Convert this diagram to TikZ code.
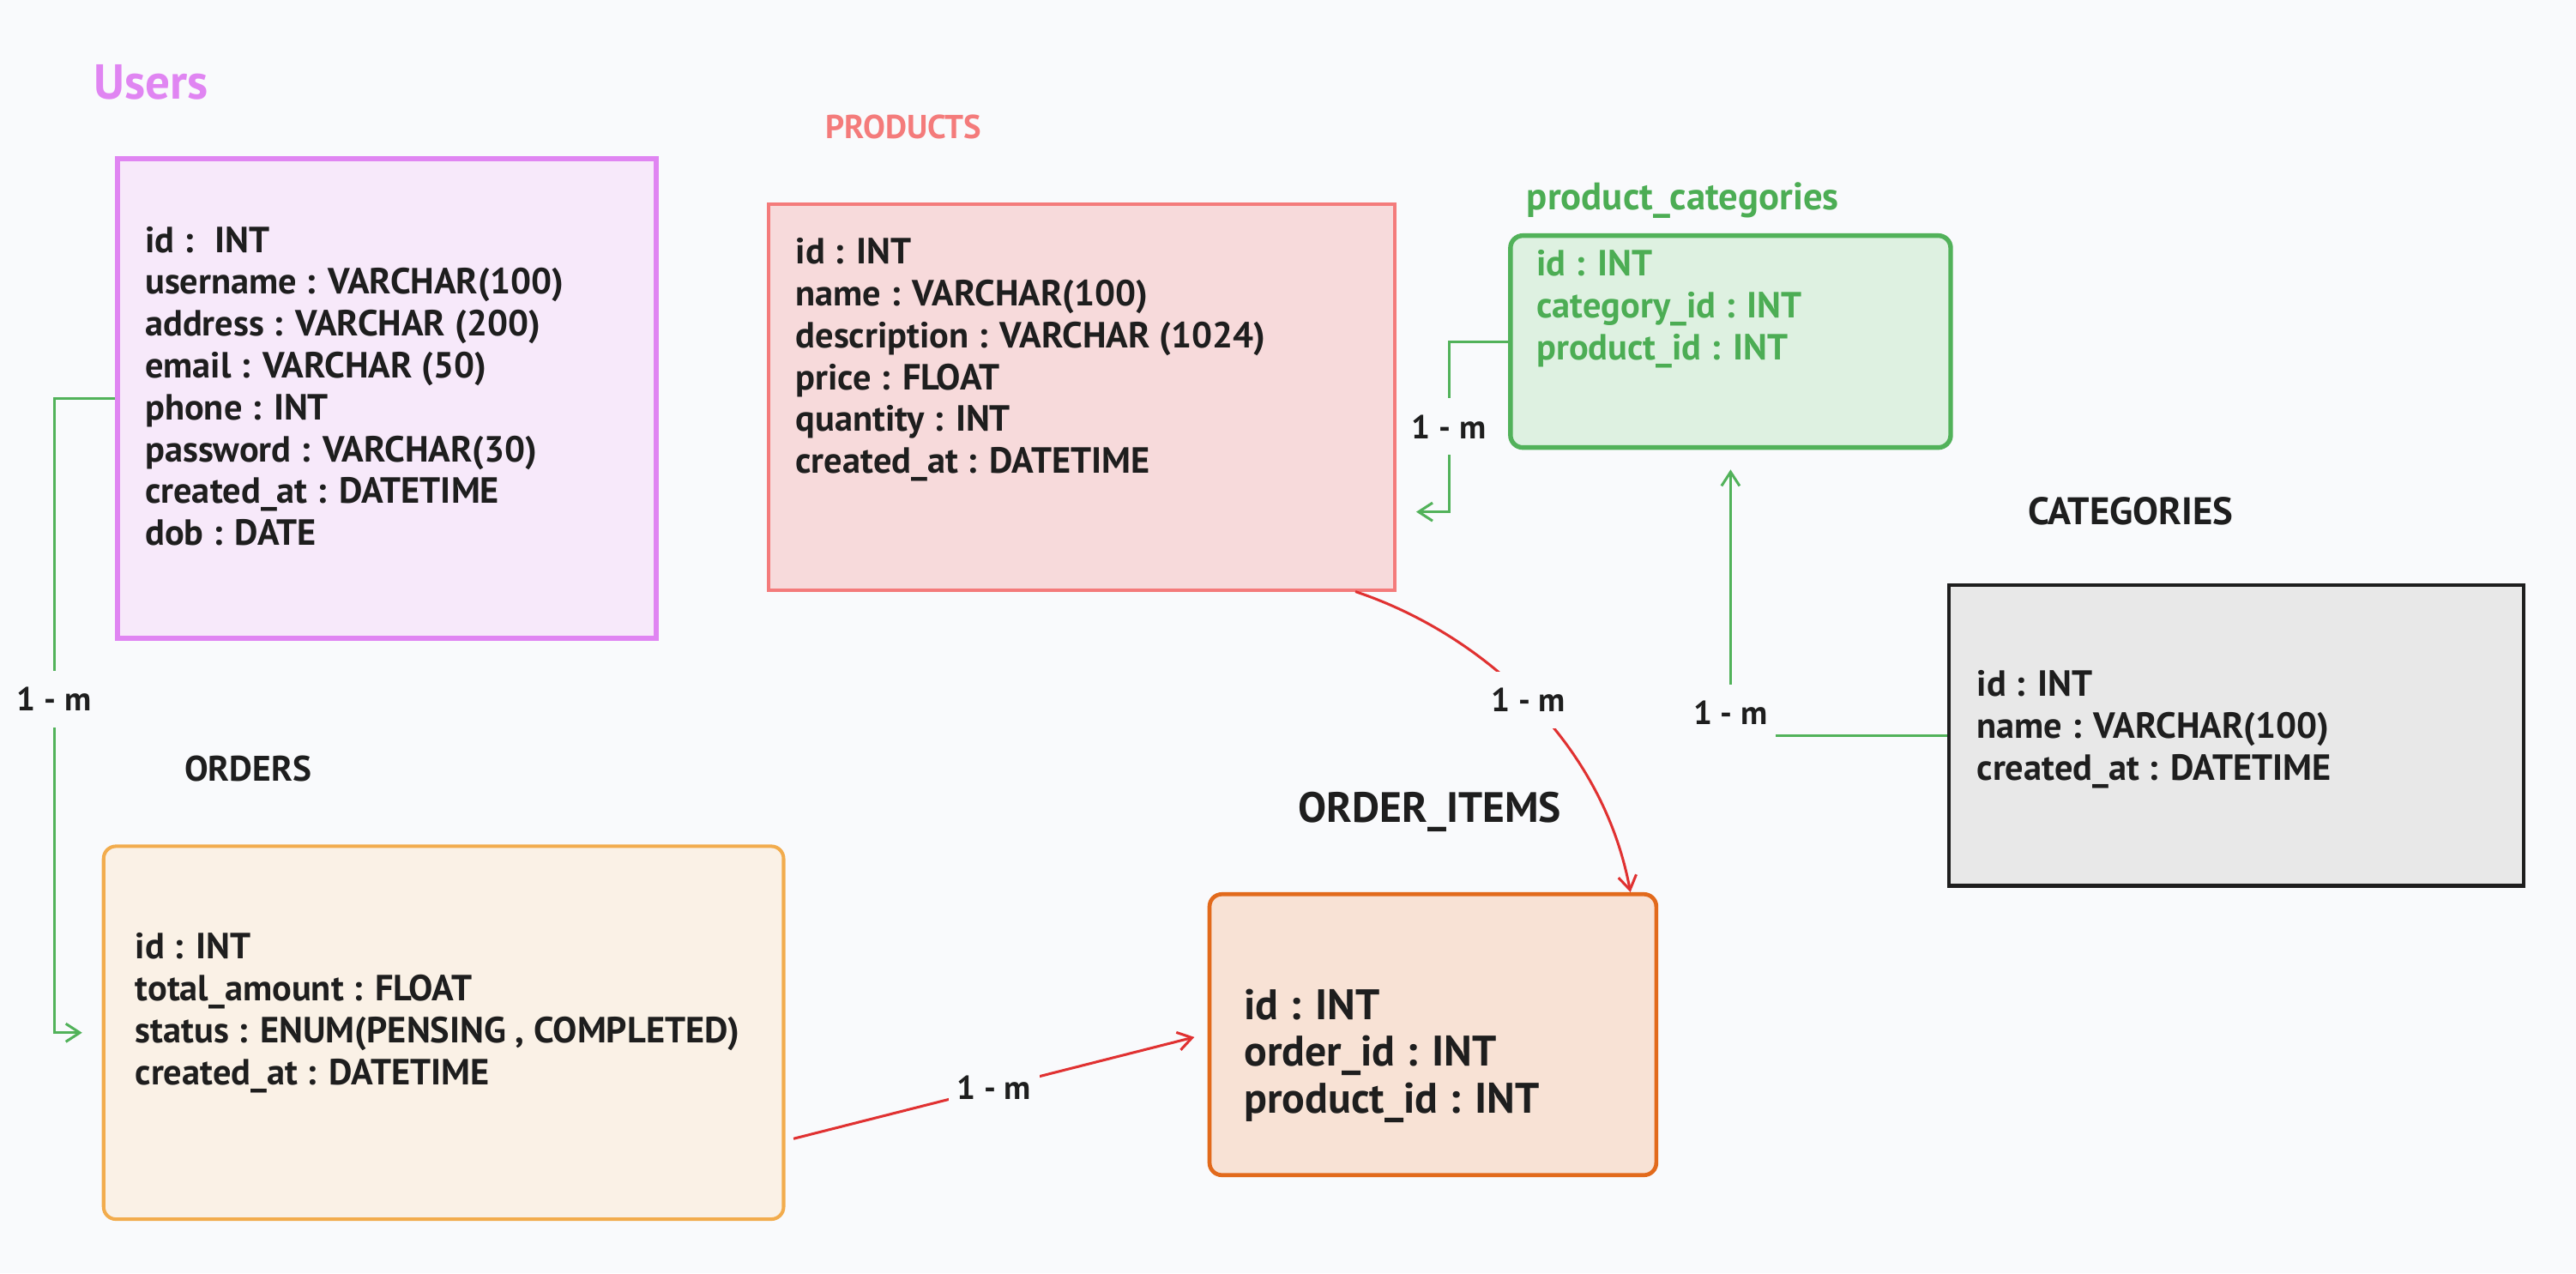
\documentclass[tikz,border=0pt]{standalone}
\usepackage{fontspec}
\setmainfont{PT Sans}
\usepackage{tikz}
\usetikzlibrary{positioning,arrows.meta}

\definecolor{canvas}{HTML}{F9FAFC}
\definecolor{inktext}{HTML}{1E1E1E}
\definecolor{userline}{HTML}{E085F2}
\definecolor{userfill}{HTML}{F7E9FA}
\definecolor{prodline}{HTML}{F47B7B}
\definecolor{prodfill}{HTML}{F7DADB}
\definecolor{pcline}{HTML}{52B25A}
\definecolor{pcfill}{HTML}{DEF1E1}
\definecolor{pctext}{HTML}{4CAD54}
\definecolor{catline}{HTML}{1E1E1E}
\definecolor{catfill}{HTML}{E8E8E8}
\definecolor{ordline}{HTML}{F2AC4D}
\definecolor{ordfill}{HTML}{FAF1E6}
\definecolor{itemline}{HTML}{E26A1C}
\definecolor{itemfill}{HTML}{F8E2D5}
\definecolor{relred}{HTML}{E03131}
\definecolor{relgreen}{HTML}{52B25A}

\newcommand\fieldfont{\bfseries\fontsize{12.6}{14.5}\selectfont}
\newcommand\itemfont{\bfseries\fontsize{14.8}{16.2}\selectfont}
\newcommand\headfont{\bfseries\fontsize{12.3}{14}\selectfont}

\tikzset{
	tablebox/.style={draw, anchor=north west, inner sep=0pt},
	fields/.style={anchor=west, align=left, inner sep=0pt, text=inktext, font=\fieldfont},
	heading/.style={anchor=west, inner sep=0pt, text=inktext, font=\headfont},
	card/.style={fill=canvas, inner xsep=0.1cm, inner ysep=0.2cm, text=inktext, font=\bfseries\fontsize{11.5}{13}\selectfont},
	relg/.style={draw=relgreen, line width=0.9pt, -{Straight Barb[length=1.7mm,width=2.2mm]}},
	relr/.style={draw=relred, line width=0.9pt, -{Straight Barb[length=1.7mm,width=2.2mm]}},
}

\begin{document}
\begin{tikzpicture}[x=0.02cm,y=-0.02cm]
		\useasboundingbox (0,0) rectangle (1568,774.9);
		\fill[canvas] (0,0) rectangle (1568,774.9);

		\node[tablebox, draw=userline, fill=userfill, line width=1.8pt, minimum width=6.56cm, minimum height=5.84cm] (users) at (70,95) {};
		\node[tablebox, draw=prodline, fill=prodfill, line width=1.2pt, minimum width=7.62cm, minimum height=4.70cm] (products) at (467,123) {};
		\node[tablebox, draw=pcline, fill=pcfill, line width=1.6pt, rounded corners=1.5mm, minimum width=5.36cm, minimum height=2.58cm] (pcat) at (918,142) {};
		\node[tablebox, draw=catline, fill=catfill, line width=1.3pt, minimum width=7.00cm, minimum height=3.66cm] (categories) at (1185,355) {};
		\node[tablebox, draw=ordline, fill=ordfill, line width=1.2pt, rounded corners=1.5mm, minimum width=8.28cm, minimum height=4.54cm] (orders) at (62,514) {};
		\node[tablebox, draw=itemline, fill=itemfill, line width=1.4pt, rounded corners=1.5mm, minimum width=5.44cm, minimum height=3.42cm] (oitems) at (735,543) {};

		\node[heading, text=userline, font=\bfseries\fontsize{17}{20}\selectfont, shift={(-13,-45)}] (usersh) at (users.north west) {Users};
		\node[heading, text=prodline, font=\bfseries\fontsize{11.5}{14}\selectfont, shift={(35,-46)}] (productsh) at (products.north west) {PRODUCTS};
		\node[heading, text=pctext, font=\bfseries\fontsize{13.3}{16}\selectfont, shift={(11,-20)}] (pcath) at (pcat.north west) {product\_categories};
		\node[heading, font=\bfseries\fontsize{13.3}{16}\selectfont, shift={(49,-44)}] (categoriesh) at (categories.north west) {CATEGORIES};
		\node[heading, shift={(50,-46)}] (ordersh) at (orders.north west) {ORDERS};
		\node[heading, font=\bfseries\fontsize{14.7}{17}\selectfont, shift={(55,-49)}] (oitemsh) at (oitems.north west) {ORDER\_ITEMS};

		\node[fields, shift={(18,140)}] (usersf) at (users.north west) {id :~ INT\\username : VARCHAR(100)\\address : VARCHAR (200)\\email : VARCHAR (50)\\phone : INT\\password : VARCHAR(30)\\created\_at : DATETIME\\dob : DATE};
		\node[fields, shift={(17,96)}] (productsf) at (products.north west) {id : INT\\name : VARCHAR(100)\\description : VARCHAR (1024)\\price : FLOAT\\quantity : INT\\created\_at : DATETIME};
		\node[fields, text=pctext, shift={(17,46)}] (pcatf) at (pcat.north west) {id : INT\\category\_id : INT\\product\_id : INT};
		\node[fields, shift={(18,89)}] (categoriesf) at (categories.north west) {id : INT\\name : VARCHAR(100)\\created\_at : DATETIME};
		\node[fields, shift={(20,102.5)}] (ordersf) at (orders.north west) {id : INT\\total\_amount : FLOAT\\status : ENUM(PENSING , COMPLETED)\\created\_at : DATETIME};
		\node[fields, font=\itemfont, shift={(22,99.5)}] (oitemsf) at (oitems.north west) {id : INT\\order\_id : INT\\product\_id : INT};

		\coordinate[shift={(12,70)}] (prodin) at (products.east);

		\draw[relg] (users.west) -- ++(-37,0) |- node[card, pos=0.25, yshift=0.2cm] (rel1) {1 - m} ([xshift=-0.24cm]orders.west);
		\draw[relg] (pcat.west) -- ++(-36,0) |- node[card, pos=0.25] (rel2) {1 - m} (prodin);
		\draw[relg, shorten >=0.24cm] (categories.west) -| node[card, pos=0.5, yshift=0.28cm] (rel3) {1 - m} (pcat.south);
		\draw[relr] ([xshift=-0.5cm]products.south east) .. controls (900,385) and (975,450) .. node[card, pos=0.5] (rel4) {1 - m} ([xshift=-0.34cm]oitems.north east);
		\draw[relr] ([shift={(5,64.5)}]orders.east) -- node[card, midway] (rel5) {1 - m} ([shift={(-8,1.5)}]oitems.west);
	\end{tikzpicture}
\end{document}
